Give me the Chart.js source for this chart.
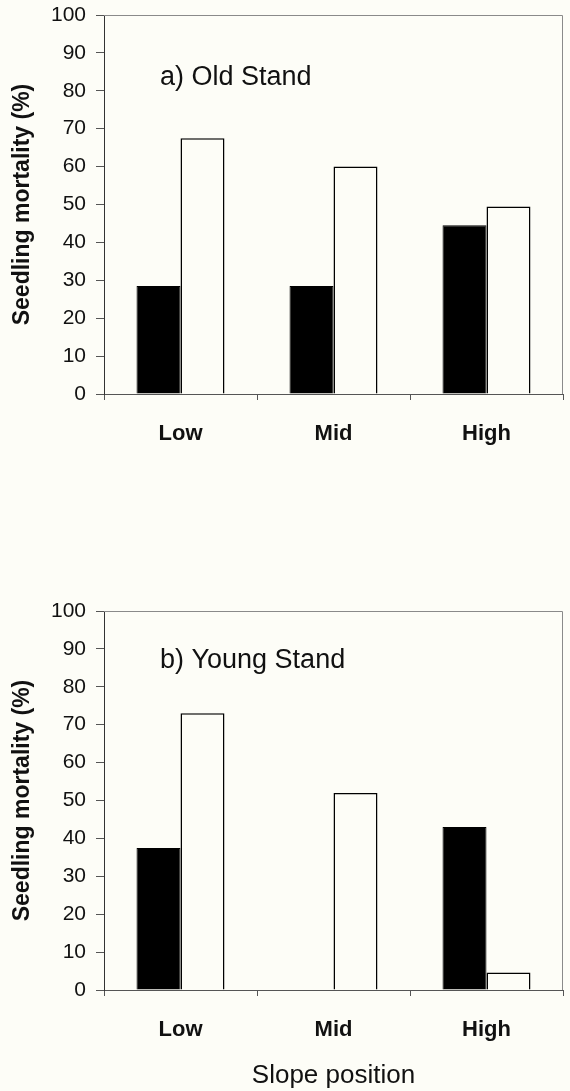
<!DOCTYPE html>
<html>
<head>
<meta charset="utf-8">
<script src="https://cdn.jsdelivr.net/npm/chart.js@4.4.1/dist/chart.umd.min.js"></script>
<style>
  body { margin: 0; background: #fdfdf7; }
  .box { position: absolute; left: 0; width: 570px; }
</style>
</head>
<body>
<div class="box" style="top:0;height:470px"><canvas id="oldStand"></canvas></div>
<div class="box" style="top:590px;height:501px"><canvas id="youngStand"></canvas></div>
<script>
// slope positions on the x axis
const slopes = ['Low', 'Mid', 'High'];
const yTicks = [0, 10, 20, 30, 40, 50, 60, 70, 80, 90, 100];

// a) Old Stand
const oldBlack = [28.5, 28.5, 44.5];
const oldWhite = [67.5, 60, 49.5];

// b) Young Stand
const youngBlack = [37.5, 0, 43];
const youngWhite = [73, 52, 4.6];

const FONT = "'Liberation Sans', Arial, sans-serif";

// frame on top and right of the plot, plus the panel label
const framePlugin = {
    id: 'frame',
    afterDraw(chart, args, opts) {
        const { ctx, chartArea: a, scales } = chart;
        ctx.save();
        ctx.strokeStyle = '#8a8a8a';
        ctx.lineWidth = 1;
        ctx.beginPath();
        ctx.moveTo(a.left, a.top + 0.5);
        ctx.lineTo(a.right - 0.5, a.top + 0.5);
        ctx.lineTo(a.right - 0.5, a.bottom);
        ctx.stroke();

        ctx.fillStyle = '#111';
        ctx.font = '27px ' + FONT;
        ctx.textBaseline = 'middle';
        ctx.fillText(opts.label, a.left + 56, scales.y.getPixelForValue(opts.at));
        ctx.restore();
    }
};

function makeChart(id, black, white, label, labelAt, padTop, xHeight, showTitle) {
    return new Chart(document.getElementById(id), {
        type: 'bar',
        data: {
            labels: slopes,
            datasets: [{
                data: black,
                backgroundColor: '#000',
                borderColor: '#000',
                borderWidth: 1,
                barPercentage: 1,
                categoryPercentage: 0.575
            }, {
                data: white,
                backgroundColor: '#fdfdf7',
                borderColor: '#000',
                borderWidth: 1.5,
                barPercentage: 1,
                categoryPercentage: 0.575
            }]
        },
        options: {
            responsive: true,
            maintainAspectRatio: false,
            animation: false,
            layout: { padding: { top: padTop, right: 7, left: 0, bottom: 0 } },
            plugins: {
                legend: { display: false },
                tooltip: { enabled: false },
                frame: { label: label, at: labelAt }
            },
            scales: {
                x: {
                    grid: { drawOnChartArea: false, offset: true, tickLength: 6, color: '#555' },
                    border: { color: '#555', width: 1 },
                    ticks: { color: '#111', padding: 21, font: { family: FONT, size: 22, weight: 'bold' } },
                    title: {
                        display: showTitle,
                        text: 'Slope position',
                        color: '#111',
                        padding: { top: 10, bottom: 0 },
                        font: { family: FONT, size: 26 }
                    },
                    afterFit(scale) { scale.height = xHeight; }
                },
                y: {
                    min: 0,
                    max: 100,
                    afterBuildTicks(scale) { scale.ticks = yTicks.map(v => ({ value: v })); },
                    grid: { drawOnChartArea: false, tickLength: 8, color: '#555' },
                    border: { color: '#333', width: 1 },
                    ticks: { color: '#111', padding: 10, font: { family: FONT, size: 21 } },
                    title: {
                        display: true,
                        text: 'Seedling mortality (%)',
                        color: '#111',
                        padding: { top: 9, bottom: 0 },
                        font: { family: FONT, size: 23, weight: 'bold' }
                    },
                    afterFit(scale) {
                        scale.width = 104;
                        // let the layout padding alone decide where the plot starts
                        scale.paddingTop = 0;
                        scale.paddingBottom = 0;
                    }
                }
            }
        },
        plugins: [framePlugin]
    });
}

makeChart('oldStand', oldBlack, oldWhite, 'a) Old Stand', 83.6, 15, 76, false);
makeChart('youngStand', youngBlack, youngWhite, 'b) Young Stand', 86.8, 21, 101, true);
</script>
</body>
</html>
